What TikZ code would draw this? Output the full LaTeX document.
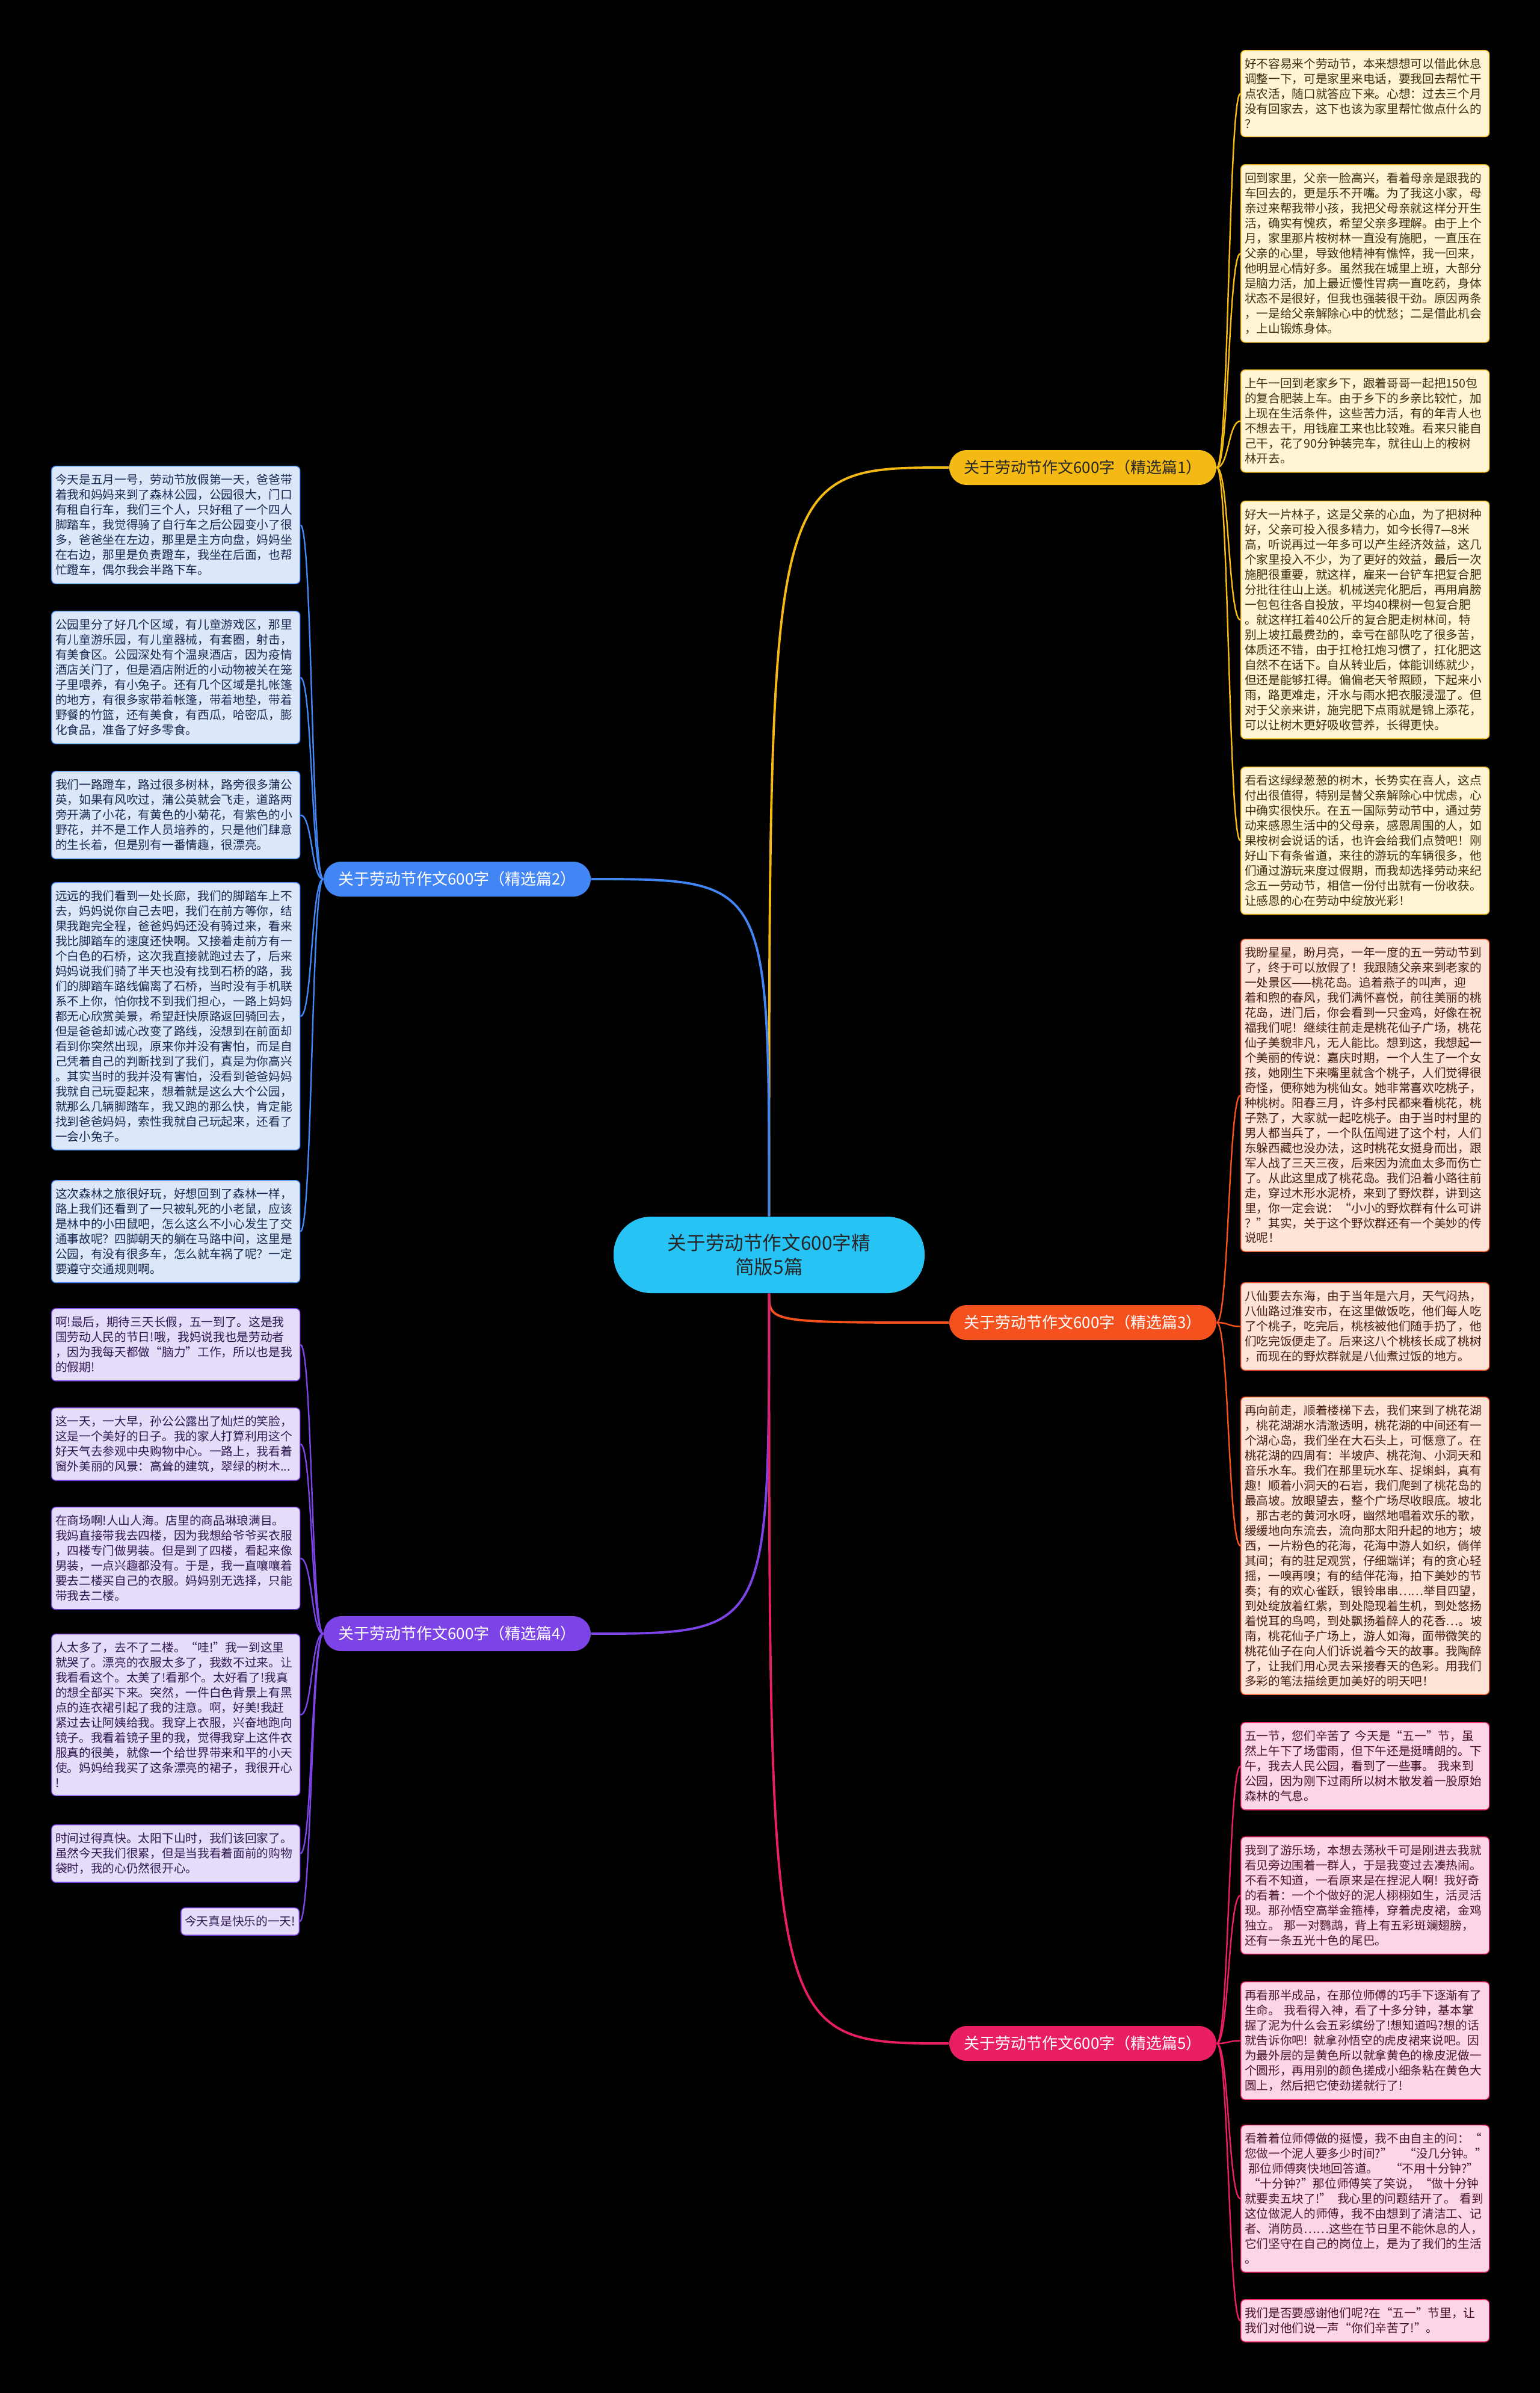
\documentclass[tikz,border=0pt]{standalone}
\usepackage{fontspec}
\setmainfont{Noto Sans CJK SC}
\usepackage{xcolor}
\definecolor{goldline}{RGB}{245,185,20}
\definecolor{goldsoft}{RGB}{255,244,212}
\definecolor{goldtext}{RGB}{60,45,10}
\definecolor{blueline}{RGB}{66,133,244}
\definecolor{bluesoft}{RGB}{220,232,250}
\definecolor{bluetext}{RGB}{25,40,80}
\definecolor{orangeline}{RGB}{244,81,30}
\definecolor{orangesoft}{RGB}{253,228,214}
\definecolor{orangetext}{RGB}{70,30,15}
\definecolor{purpleline}{RGB}{124,68,230}
\definecolor{purplesoft}{RGB}{229,220,250}
\definecolor{purpletext}{RGB}{45,25,80}
\definecolor{pinkline}{RGB}{233,30,99}
\definecolor{pinksoft}{RGB}{252,214,230}
\definecolor{pinktext}{RGB}{75,20,40}
\definecolor{centercyan}{RGB}{40,195,245}

\begin{document}
\begin{tikzpicture}[
  leaf/.style={rounded corners=2pt, text width=4cm, inner xsep=0.065cm, inner ysep=0.135cm, align=left, font=\fontsize{5.6}{7.1}\selectfont, anchor=north west, line width=0.4pt},
  topic/.style={rounded corners=0.29cm, minimum width=4.44cm, minimum height=0.58cm, inner sep=0pt, font=\fontsize{7.4}{9}\selectfont},
  link/.style={line width=1.1pt},
  twig/.style={line width=0.7pt},
  gold/.style={draw=goldline, fill=goldsoft, text=goldtext},
  blue/.style={draw=blueline, fill=bluesoft, text=bluetext},
  orange/.style={draw=orangeline, fill=orangesoft, text=orangetext},
  purple/.style={draw=purpleline, fill=purplesoft, text=purpletext},
  pink/.style={draw=pinkline, fill=pinksoft, text=pinktext}
]
\useasboundingbox (0,0) rectangle (25.6,-39.77);
\fill[black] (0,0) rectangle (25.6,-39.77);

\node[fill=centercyan, rounded corners=0.62cm, minimum width=5.17cm, minimum height=1.27cm, align=center, text=black!85, font=\fontsize{9}{11.6}\selectfont] (c) at (12.785,-20.855) {关于劳动节作文600字精\\简版5篇};

\node[topic, fill=goldline, text=black!85] (b1) at (18.00,-7.77) {关于劳动节作文600字（精选篇1）};
\node[topic, fill=blueline, text=white] (b2) at (7.60,-14.61) {关于劳动节作文600字（精选篇2）};
\node[topic, fill=orangeline, text=white] (b3) at (18.00,-21.98) {关于劳动节作文600字（精选篇3）};
\node[topic, fill=purpleline, text=white] (b4) at (7.60,-27.15) {关于劳动节作文600字（精选篇4）};
\node[topic, fill=pinkline, text=white] (b5) at (18.00,-33.96) {关于劳动节作文600字（精选篇5）};

\node[leaf, gold] (r1) at (20.62,-0.83) {好不容易来个劳动节，本来想想可以借此休息\\调整一下，可是家里来电话，要我回去帮忙干\\点农活，随口就答应下来。心想：过去三个月\\没有回家去，这下也该为家里帮忙做点什么的\\？};
\node[leaf, gold] (r2) at (20.62,-2.73) {回到家里，父亲一脸高兴，看着母亲是跟我的\\车回去的，更是乐不开嘴。为了我这小家，母\\亲过来帮我带小孩，我把父母亲就这样分开生\\活，确实有愧疚，希望父亲多理解。由于上个\\月，家里那片桉树林一直没有施肥，一直压在\\父亲的心里，导致他精神有憔悴，我一回来，\\他明显心情好多。虽然我在城里上班，大部分\\是脑力活，加上最近慢性胃病一直吃药，身体\\状态不是很好，但我也强装很干劲。原因两条\\，一是给父亲解除心中的忧愁；二是借此机会\\，上山锻炼身体。};
\node[leaf, gold] (r3) at (20.62,-6.14) {上午一回到老家乡下，跟着哥哥一起把150包\\的复合肥装上车。由于乡下的乡亲比较忙，加\\上现在生活条件，这些苦力活，有的年青人也\\不想去干，用钱雇工来也比较难。看来只能自\\己干，花了90分钟装完车，就往山上的桉树\\林开去。};
\node[leaf, gold] (r4) at (20.62,-8.32) {好大一片林子，这是父亲的心血，为了把树种\\好，父亲可投入很多精力，如今长得7—8米\\高，听说再过一年多可以产生经济效益，这几\\个家里投入不少，为了更好的效益，最后一次\\施肥很重要，就这样，雇来一台铲车把复合肥\\分批往往山上送。机械送完化肥后，再用肩膀\\一包包往各自投放，平均40棵树一包复合肥\\。就这样扛着40公斤的复合肥走树林间，特\\别上坡扛最费劲的，幸亏在部队吃了很多苦，\\体质还不错，由于扛枪扛炮习惯了，扛化肥这\\自然不在话下。自从转业后，体能训练就少，\\但还是能够扛得。偏偏老天爷照顾，下起来小\\雨，路更难走，汗水与雨水把衣服浸湿了。但\\对于父亲来讲，施完肥下点雨就是锦上添花，\\可以让树木更好吸收营养，长得更快。};
\node[leaf, gold] (r5) at (20.62,-12.74) {看看这绿绿葱葱的树木，长势实在喜人，这点\\付出很值得，特别是替父亲解除心中忧虑，心\\中确实很快乐。在五一国际劳动节中，通过劳\\动来感恩生活中的父母亲，感恩周围的人，如\\果桉树会说话的话，也许会给我们点赞吧！刚\\好山下有条省道，来往的游玩的车辆很多，他\\们通过游玩来度过假期，而我却选择劳动来纪\\念五一劳动节，相信一份付出就有一份收获。\\让感恩的心在劳动中绽放光彩！};

\node[leaf, orange] (r6) at (20.62,-15.60) {我盼星星，盼月亮，一年一度的五一劳动节到\\了，终于可以放假了！我跟随父亲来到老家的\\一处景区——桃花岛。追着燕子的叫声，迎\\着和煦的春风，我们满怀喜悦，前往美丽的桃\\花岛，进门后，你会看到一只金鸡，好像在祝\\福我们呢！继续往前走是桃花仙子广场，桃花\\仙子美貌非凡，无人能比。想到这，我想起一\\个美丽的传说：嘉庆时期，一个人生了一个女\\孩，她刚生下来嘴里就含个桃子，人们觉得很\\奇怪，便称她为桃仙女。她非常喜欢吃桃子，\\种桃树。阳春三月，许多村民都来看桃花，桃\\子熟了，大家就一起吃桃子。由于当时村里的\\男人都当兵了，一个队伍闯进了这个村，人们\\东躲西藏也没办法，这时桃花女挺身而出，跟\\军人战了三天三夜，后来因为流血太多而伤亡\\了。从此这里成了桃花岛。我们沿着小路往前\\走，穿过木形水泥桥，来到了野炊群，讲到这\\里，你一定会说：“小小的野炊群有什么可讲\\？”其实，关于这个野炊群还有一个美妙的传\\说呢！};
\node[leaf, orange] (r7) at (20.62,-21.31) {八仙要去东海，由于当年是六月，天气闷热，\\八仙路过淮安市，在这里做饭吃，他们每人吃\\了个桃子，吃完后，桃核被他们随手扔了，他\\们吃完饭便走了。后来这八个桃核长成了桃树\\，而现在的野炊群就是八仙煮过饭的地方。};
\node[leaf, orange] (r8) at (20.62,-23.21) {再向前走，顺着楼梯下去，我们来到了桃花湖\\，桃花湖湖水清澈透明，桃花湖的中间还有一\\个湖心岛，我们坐在大石头上，可惬意了。在\\桃花湖的四周有：半坡庐、桃花洵、小洞天和\\音乐水车。我们在那里玩水车、捉蝌蚪，真有\\趣！顺着小洞天的石岩，我们爬到了桃花岛的\\最高坡。放眼望去，整个广场尽收眼底。坡北\\，那古老的黄河水呀，幽然地唱着欢乐的歌，\\缓缓地向东流去，流向那太阳升起的地方；坡\\西，一片粉色的花海，花海中游人如织，倘佯\\其间；有的驻足观赏，仔细端详；有的贪心轻\\摇，一嗅再嗅；有的结伴花海，拍下美妙的节\\奏；有的欢心雀跃，银铃串串……举目四望，\\到处绽放着红紫，到处隐现着生机，到处悠扬\\着悦耳的鸟鸣，到处飘扬着醉人的花香…。坡\\南，桃花仙子广场上，游人如海，面带微笑的\\桃花仙子在向人们诉说着今天的故事。我陶醉\\了，让我们用心灵去采接春天的色彩。用我们\\多彩的笔法描绘更加美好的明天吧！};

\node[leaf, pink] (r9) at (20.62,-28.62) {五一节，您们辛苦了 今天是“五一”节，虽\\然上午下了场雷雨，但下午还是挺晴朗的。下\\午，我去人民公园，看到了一些事。 我来到\\公园，因为刚下过雨所以树木散发着一股原始\\森林的气息。};
\node[leaf, pink] (r10) at (20.62,-30.52) {我到了游乐场，本想去荡秋千可是刚进去我就\\看见旁边围着一群人，于是我变过去凑热闹。\\不看不知道，一看原来是在捏泥人啊! 我好奇\\的看着：一个个做好的泥人栩栩如生，活灵活\\现。那孙悟空高举金箍棒，穿着虎皮裙，金鸡\\独立。 那一对鹦鹉，背上有五彩斑斓翅膀，\\还有一条五光十色的尾巴。};
\node[leaf, pink] (r11) at (20.62,-32.93) {再看那半成品，在那位师傅的巧手下逐渐有了\\生命。 我看得入神，看了十多分钟，基本掌\\握了泥为什么会五彩缤纷了!想知道吗?想的话\\就告诉你吧! 就拿孙悟空的虎皮裙来说吧。因\\为最外层的是黄色所以就拿黄色的橡皮泥做一\\个圆形，再用别的颜色搓成小细条粘在黄色大\\圆上，然后把它使劲搓就行了!};
\node[leaf, pink] (r12) at (20.62,-35.31) {看着着位师傅做的挺慢，我不由自主的问：“\\您做一个泥人要多少时间?”\hspace*{1em}“没几分钟。”\\\hspace*{0.3em}那位师傅爽快地回答道。\hspace*{1em}“不用十分钟?”\\\hspace*{0.3em}“十分钟?”那位师傅笑了笑说，“做十分钟\\就要卖五块了!” 我心里的问题结开了。 看到\\这位做泥人的师傅，我不由想到了清洁工、记\\者、消防员……这些在节日里不能休息的人，\\它们坚守在自己的岗位上，是为了我们的生活\\。};
\node[leaf, pink] (r13) at (20.62,-38.21) {我们是否要感谢他们呢?在“五一”节里，让\\我们对他们说一声“你们辛苦了!”。};

\node[leaf, blue] (l1) at (0.85,-7.74) {今天是五月一号，劳动节放假第一天，爸爸带\\着我和妈妈来到了森林公园，公园很大，门口\\有租自行车，我们三个人，只好租了一个四人\\脚踏车，我觉得骑了自行车之后公园变小了很\\多，爸爸坐在左边，那里是主方向盘，妈妈坐\\在右边，那里是负责蹬车，我坐在后面，也帮\\忙蹬车，偶尔我会半路下车。};
\node[leaf, blue] (l2) at (0.85,-10.15) {公园里分了好几个区域，有儿童游戏区，那里\\有儿童游乐园，有儿童器械，有套圈，射击，\\有美食区。公园深处有个温泉酒店，因为疫情\\酒店关门了，但是酒店附近的小动物被关在笼\\子里喂养，有小兔子。还有几个区域是扎帐篷\\的地方，有很多家带着帐篷，带着地垫，带着\\野餐的竹篮，还有美食，有西瓜，哈密瓜，膨\\化食品，准备了好多零食。};
\node[leaf, blue] (l3) at (0.85,-12.81) {我们一路蹬车，路过很多树林，路旁很多蒲公\\英，如果有风吹过，蒲公英就会飞走，道路两\\旁开满了小花，有黄色的小菊花，有紫色的小\\野花，并不是工作人员培养的，只是他们肆意\\的生长着，但是别有一番情趣，很漂亮。};
\node[leaf, blue] (l4) at (0.85,-14.66) {远远的我们看到一处长廊，我们的脚踏车上不\\去，妈妈说你自己去吧，我们在前方等你，结\\果我跑完全程，爸爸妈妈还没有骑过来，看来\\我比脚踏车的速度还快啊。又接着走前方有一\\个白色的石桥，这次我直接就跑过去了，后来\\妈妈说我们骑了半天也没有找到石桥的路，我\\们的脚踏车路线偏离了石桥，当时没有手机联\\系不上你，怕你找不到我们担心，一路上妈妈\\都无心欣赏美景，希望赶快原路返回骑回去，\\但是爸爸却诚心改变了路线，没想到在前面却\\看到你突然出现，原来你并没有害怕，而是自\\己凭着自己的判断找到了我们，真是为你高兴\\。其实当时的我并没有害怕，没看到爸爸妈妈\\我就自己玩耍起来，想着就是这么大个公园，\\就那么几辆脚踏车，我又跑的那么快，肯定能\\找到爸爸妈妈，索性我就自己玩起来，还看了\\一会小兔子。};
\node[leaf, blue] (l5) at (0.85,-19.61) {这次森林之旅很好玩，好想回到了森林一样，\\路上我们还看到了一只被轧死的小老鼠，应该\\是林中的小田鼠吧，怎么这么不小心发生了交\\通事故呢？四脚朝天的躺在马路中间，这里是\\公园，有没有很多车，怎么就车祸了呢？一定\\要遵守交通规则啊。};

\node[leaf, purple] (l6) at (0.85,-21.74) {啊!最后，期待三天长假，五一到了。这是我\\国劳动人民的节日!哦，我妈说我也是劳动者\\，因为我每天都做“脑力”工作，所以也是我\\的假期!};
\node[leaf, purple] (l7) at (0.85,-23.39) {这一天，一大早，孙公公露出了灿烂的笑脸，\\这是一个美好的日子。我的家人打算利用这个\\好天气去参观中央购物中心。一路上，我看着\\窗外美丽的风景：高耸的建筑，翠绿的树木...};
\node[leaf, purple] (l8) at (0.85,-25.04) {在商场啊!人山人海。店里的商品琳琅满目。\\我妈直接带我去四楼，因为我想给爷爷买衣服\\，四楼专门做男装。但是到了四楼，看起来像\\男装，一点兴趣都没有。于是，我一直嚷嚷着\\要去二楼买自己的衣服。妈妈别无选择，只能\\带我去二楼。};
\node[leaf, purple] (l9) at (0.85,-27.15) {人太多了，去不了二楼。“哇!”我一到这里\\就哭了。漂亮的衣服太多了，我数不过来。让\\我看看这个。太美了!看那个。太好看了!我真\\的想全部买下来。突然，一件白色背景上有黑\\点的连衣裙引起了我的注意。啊，好美!我赶\\紧过去让阿姨给我。我穿上衣服，兴奋地跑向\\镜子。我看着镜子里的我，觉得我穿上这件衣\\服真的很美，就像一个给世界带来和平的小天\\使。妈妈给我买了这条漂亮的裙子，我很开心\\!};
\node[leaf, purple] (l10) at (0.85,-30.32) {时间过得真快。太阳下山时，我们该回家了。\\虽然今天我们很累，但是当我看着面前的购物\\袋时，我的心仍然很开心。};
\node[leaf, purple, text width=, anchor=north east] (l11) at (4.98,-31.70) {今天真是快乐的一天!};

\draw[link, goldline] (c.north) .. controls (c.north |- b1.west) .. (b1.west);
\draw[link, blueline] (c.north) .. controls (c.north |- b2.east) .. (b2.east);
\draw[link, orangeline] (c.south) .. controls (c.south |- b3.west) .. (b3.west);
\draw[link, purpleline] (c.south) .. controls (c.south |- b4.east) .. (b4.east);
\draw[link, pinkline] (c.south) .. controls (c.south |- b5.west) .. (b5.west);

\foreach \leafname in {r1,r2,r3,r4,r5}
  \draw[twig, goldline] (b1.east) .. controls +(0.2,0) and +(-0.2,0) .. (\leafname.west);
\foreach \leafname in {r6,r7,r8}
  \draw[twig, orangeline] (b3.east) .. controls +(0.2,0) and +(-0.2,0) .. (\leafname.west);
\foreach \leafname in {r9,r10,r11,r12,r13}
  \draw[twig, pinkline] (b5.east) .. controls +(0.2,0) and +(-0.2,0) .. (\leafname.west);
\foreach \leafname in {l1,l2,l3,l4,l5}
  \draw[twig, blueline] (b2.west) .. controls +(-0.2,0) and +(0.2,0) .. (\leafname.east);
\foreach \leafname in {l6,l7,l8,l9,l10,l11}
  \draw[twig, purpleline] (b4.west) .. controls +(-0.2,0) and +(0.2,0) .. (\leafname.east);
\end{tikzpicture}
\end{document}
